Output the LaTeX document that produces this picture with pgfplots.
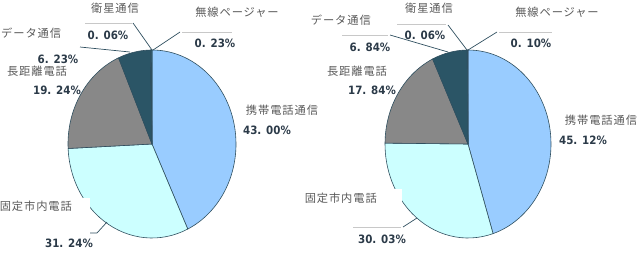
\documentclass[border=0pt]{standalone}
\usepackage{pgfplots}
\pgfplotsset{compat=1.18}
\usepackage{fontspec}
\setmainfont{DejaVu Sans}
\newfontfamily\jp{Noto Sans CJK JP}[LetterSpace=8]
\newfontfamily\num{DejaVu Sans Bold}[FakeStretch=0.9]
\definecolor{cblue}{HTML}{99CCFF}
\definecolor{ccyan}{HTML}{CCFFFF}
\definecolor{cgray}{HTML}{888888}
\definecolor{cteal}{HTML}{2B5566}
\definecolor{csat}{HTML}{1F3F4F}
\definecolor{cpag}{HTML}{3A6A80}
\definecolor{cedge}{HTML}{2F4F5F}
\definecolor{ctext}{HTML}{5A5A5A}
\definecolor{cnum}{HTML}{2B3A48}
\definecolor{cghost}{HTML}{C8C8C8}

% pie: center x, center y (image coords), rx, ry, list value/colour
\newcommand{\drawpie}[5]{%
  \xdef\ang{90}%
  \foreach \v/\c in {#5}{%
    \pgfmathsetmacro\e{\ang-3.6*\v}%
    \edef\temp{\noexpand\fill[\c,draw=cedge,line width=0.6pt,line join=round]
      (axis cs:#1,#2) -- ++(\ang:#3bp and #4bp)
      arc[start angle=\ang,end angle=\e,x radius=#3bp,y radius=#4bp] -- cycle;}%
    \temp
    \xdef\ang{\e}%
  }%
}
\tikzset{
  lab/.style={font=\jp\fontsize{11.3}{13}\selectfont,text=ctext,inner sep=1pt},
  pct/.style={font=\num\fontsize{11.5}{13}\selectfont,text=cnum,inner sep=1pt},
  lead/.style={draw=cedge,line width=0.7pt},
  ghost/.style={draw=cghost,line width=0.9pt}
}
\begin{document}
\begin{tikzpicture}
\useasboundingbox (0,0) rectangle (643bp,256bp);
\clip (0,0) rectangle (643bp,256bp);
\begin{axis}[
  scale only axis, width=643bp, height=256bp,
  xmin=0, xmax=643, ymin=0, ymax=256, y dir=reverse,
  hide axis, clip=false, at={(0,0)}, anchor=south west]

% ---------- left pie (data) ----------
\drawpie{152}{144}{84}{94}{43.00/cblue,31.24/ccyan,19.24/cgray,6.23/cteal,0.06/csat,0.23/cpag}
% ---------- right pie (data) ----------
\drawpie{468}{144}{83}{94}{45.12/cblue,30.03/ccyan,17.84/cgray,6.84/cteal,0.06/csat,0.10/cpag}

% ---------- leader lines left ----------
\draw[ghost] (axis cs:85,23) -- (axis cs:132,23);
\draw[lead] (axis cs:133,23) -- (axis cs:152,50);
\draw[lead] (axis cs:153,50) -- (axis cs:180,32);
\draw[ghost] (axis cs:182,32) -- (axis cs:232,32);
\draw[lead] (axis cs:80,47) -- (axis cs:130,52);
\draw[lead] (axis cs:90,233) -- (axis cs:97,233) -- (axis cs:107,222);

% ---------- leader lines right ----------
\draw[ghost] (axis cs:397,24) -- (axis cs:446,24);
\draw[lead] (axis cs:448,25) -- (axis cs:467,50);
\draw[ghost] (axis cs:342,35) -- (axis cs:388,35);
\draw[lead] (axis cs:390,35) -- (axis cs:448,52);
\draw[lead] (axis cs:468,50) -- (axis cs:497,32);
\draw[ghost] (axis cs:499,32) -- (axis cs:552,32);
\draw[ghost] (axis cs:353,227) -- (axis cs:401,227);
\draw[lead] (axis cs:403,227) -- (axis cs:417,218);

% ---------- labels left ----------
\node[lab] at (axis cs:115,8) {衛星通信};
\node[pct] at (axis cs:108,35) {0. 06\%};
\node[lab] at (axis cs:237,12) {無線ページャー};
\node[pct] at (axis cs:215,43) {0. 23\%};
\node[lab,anchor=west] at (axis cs:0,33) {データ通信};
\node[pct] at (axis cs:58,59) {6. 23\%};
\node[lab,fill=white,inner ysep=2pt] at (axis cs:37,71) {長距離電話};
\node[pct] at (axis cs:57,90) {19. 24\%};
\node[lab] at (axis cs:282,110) {携帯電話通信};
\node[pct] at (axis cs:267,130) {43. 00\%};
\node[lab,anchor=east,fill=white,minimum height=17bp,text width=90bp,align=right,inner xsep=0pt] at (axis cs:90,206) {固定市内電話\hspace*{25bp}};
\node[pct] at (axis cs:69,243) {31. 24\%};

% ---------- labels right ----------
\node[lab] at (axis cs:429,8) {衛星通信};
\node[pct] at (axis cs:425,35) {0. 06\%};
\node[lab] at (axis cs:557,12) {無線ページャー};
\node[pct] at (axis cs:531,43) {0. 10\%};
\node[lab,anchor=east] at (axis cs:372,20) {データ通信};
\node[pct] at (axis cs:370,47) {6. 84\%};
\node[lab] at (axis cs:357,71) {長距離電話};
\node[pct] at (axis cs:372,90) {17. 84\%};
\node[lab] at (axis cs:601,120) {携帯電話通信};
\node[pct] at (axis cs:583,140) {45. 12\%};
\node[lab,anchor=east,fill=white,minimum height=18bp,text width=100bp,align=right,inner xsep=0pt] at (axis cs:402,198) {固定市内電話\hspace*{25bp}};
\node[pct] at (axis cs:382,239) {30. 03\%};
\end{axis}
\end{tikzpicture}
\end{document}
